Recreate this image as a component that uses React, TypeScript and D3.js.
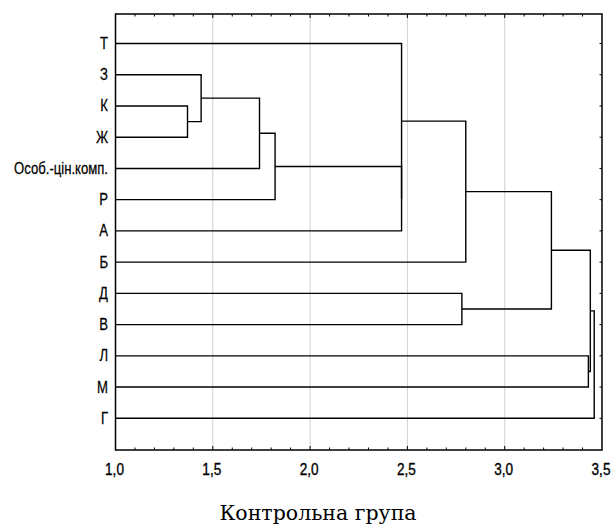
import React, { useEffect, useRef } from 'react';
import * as d3 from 'd3';

// leaf labels, top to bottom
const leaves = ['Т', 'З', 'К', 'Ж', 'Особ.-цін.комп.', 'Р', 'А', 'Б', 'Д', 'В', 'Л', 'М', 'Г'];

// linkage steps: [childA, childB, height]; ids >= leaves.length are earlier merges
const linkage: [number, number, number][] = [
  [2, 3, 1.37],
  [1, 13, 1.44],
  [14, 4, 1.74],
  [15, 5, 1.82],
  [16, 6, 2.47],
  [0, 17, 2.47],
  [18, 7, 2.80],
  [8, 9, 2.78],
  [19, 20, 3.24],
  [10, 11, 3.43],
  [21, 22, 3.44],
  [23, 12, 3.46],
];

const xTicks = [1.0, 1.5, 2.0, 2.5, 3.0, 3.5];
const xMinor = d3.range(11, 35).map((d) => d / 10);
const caption = 'Контрольна група';

const App: React.FC = () => {
  const svgRef = useRef<SVGSVGElement | null>(null);
  const width = 613;
  const height = 527;

  useEffect(() => {
    if (!svgRef.current) return;
    const svg = d3.select(svgRef.current);
    svg.selectAll('*').remove();

    const left = 115.5;
    const right = 602;
    const top = 14;
    const bottom = 450;

    const x = d3.scaleLinear().domain([1, 3.5]).range([left, right]);
    const y = d3.scalePoint<string>().domain(leaves).range([43.5, 418.3]);

    // grid
    svg
      .append('g')
      .selectAll('line')
      .data(xTicks.slice(1, -1))
      .join('line')
      .attr('x1', (d) => x(d))
      .attr('x2', (d) => x(d))
      .attr('y1', top)
      .attr('y2', bottom)
      .attr('stroke', '#d0d0d0')
      .attr('stroke-width', 1);

    // node positions
    const nodes: { h: number; y: number }[] = leaves.map((l) => ({ h: 1, y: y(l) as number }));
    const paths: string[] = [];
    linkage.forEach(([a, b, h]) => {
      const na = nodes[a];
      const nb = nodes[b];
      paths.push(`M${x(na.h)},${na.y}H${x(h)}V${nb.y}H${x(nb.h)}`);
      nodes.push({ h, y: (na.y + nb.y) / 2 });
    });

    svg
      .append('g')
      .selectAll('path')
      .data(paths)
      .join('path')
      .attr('d', (d) => d)
      .attr('fill', 'none')
      .attr('stroke', '#000')
      .attr('stroke-width', 1.4);

    // frame
    svg
      .append('rect')
      .attr('x', left)
      .attr('y', top)
      .attr('width', right - left)
      .attr('height', bottom - top)
      .attr('fill', 'none')
      .attr('stroke', '#000')
      .attr('stroke-width', 1.5);

    // ticks on top and bottom (inside)
    const tickG = svg.append('g').attr('stroke', '#000').attr('stroke-width', 1);
    xMinor.forEach((v) => {
      const major = xTicks.some((t) => Math.abs(t - v) < 1e-6);
      const len = major ? 4 : 2.5;
      tickG.append('line').attr('x1', x(v)).attr('x2', x(v)).attr('y1', top).attr('y2', top + len);
      tickG.append('line').attr('x1', x(v)).attr('x2', x(v)).attr('y1', bottom).attr('y2', bottom - len);
    });
    // right edge ticks at leaves
    leaves.forEach((l) => {
      tickG.append('line').attr('x1', right).attr('x2', right - 2.5).attr('y1', y(l) as number).attr('y2', y(l) as number);
    });

    // x tick labels
    svg
      .append('g')
      .selectAll('text')
      .data(xTicks)
      .join('text')
      .attr('transform', (d) => `translate(${x(d) - 1},475) scale(0.85,1)`)
      .attr('text-anchor', 'middle')
      .attr('font-family', 'Liberation Sans, Arial, sans-serif')
      .attr('font-size', 16)
      .attr('fill', '#000')
      .attr('stroke', '#000')
      .attr('stroke-width', 0.35)
      .text((d) => d.toFixed(1).replace('.', ','));

    // leaf labels
    svg
      .append('g')
      .selectAll('text')
      .data(leaves)
      .join('text')
      .attr('transform', (d) => `translate(108,${(y(d) as number) + 5.5}) scale(0.82,1)`)
      .attr('text-anchor', 'end')
      .attr('font-family', 'Liberation Sans, Arial, sans-serif')
      .attr('font-size', 16)
      .attr('fill', '#000')
      .attr('stroke', '#000')
      .attr('stroke-width', 0.25)
      .text((d) => d);

    // caption
    svg
      .append('text')
      .attr('x', 318)
      .attr('y', 520)
      .attr('text-anchor', 'middle')
      .attr('font-family', 'DejaVu Serif, serif')
      .attr('font-size', 20.5)
      .attr('fill', '#000')
      .text(caption);
  }, []);

  return (
    <svg
      ref={svgRef}
      width={width}
      height={height}
      style={{ position: 'absolute', left: 0, top: 0, background: '#fff' }}
    ></svg>
  );
};

export default App;
